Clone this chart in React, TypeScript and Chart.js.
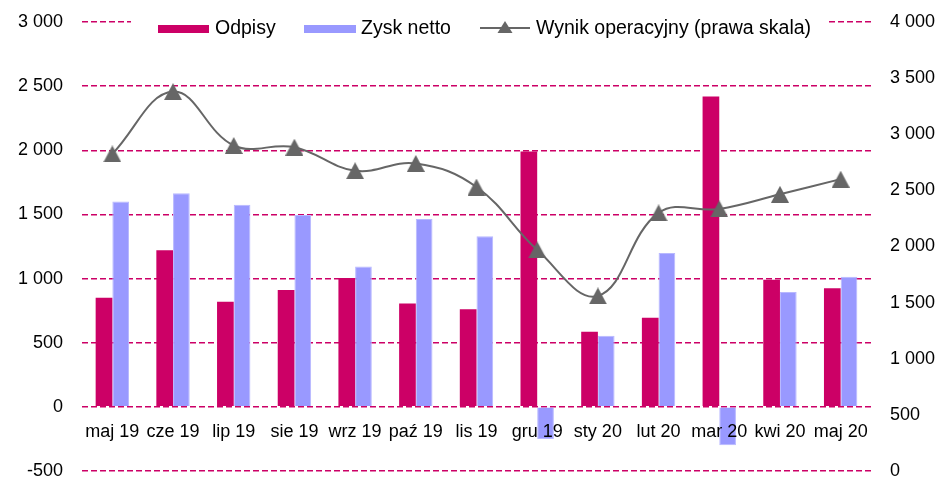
import React, { useEffect, useRef } from "react";
import { Chart, registerables } from "chart.js";

Chart.register(...registerables);

const categories = ["maj 19", "cze 19", "lip 19", "sie 19", "wrz 19", "paź 19", "lis 19", "gru 19", "sty 20", "lut 20", "mar 20", "kwi 20", "maj 20"];
const odpisy = [850, 1220, 820, 910, 1005, 805, 760, 1990, 585, 695, 2420, 990, 925];
const zyskNetto = [1600, 1665, 1575, 1495, 1095, 1465, 1330, -250, 555, 1200, -300, 895, 1015];
const wynikOperacyjny = [2825, 3380, 2900, 2885, 2675, 2740, 2530, 1970, 1560, 2300, 2335, 2465, 2600];
const seriesNames = ["Odpisy", "Zysk netto", "Wynik operacyjny (prawa skala)"];

const FONT = "'Liberation Sans', Arial, sans-serif";
const C_ODPISY = "#CC0066";
const C_ZYSK = "#9999FF";
const C_LINE = "#666666";
const C_GRID = "#CC0066";

const fmt = (v: number) => {
  const s = String(Math.abs(Math.round(v))).replace(/\B(?=(\d{3})+(?!\d))/g, " ");
  return (v < 0 ? "-" : "") + s;
};

function makeTriangle(w: number, h: number, color: string) {
  const c = document.createElement("canvas");
  c.width = w;
  c.height = h;
  const g = c.getContext("2d")!;
  g.fillStyle = color;
  g.beginPath();
  g.moveTo(w / 2, 0);
  g.lineTo(w, h);
  g.lineTo(0, h);
  g.closePath();
  g.fill();
  return c;
}

const legendPlugin = {
  id: "customLegend",
  afterDraw(chart: any) {
    const ctx = chart.ctx as CanvasRenderingContext2D;
    ctx.save();
    ctx.fillStyle = "#fff";
    ctx.fillRect(131, 10, 698, 34);
    const y = 29;
    ctx.font = `19.5px ${FONT}`;
    ctx.textBaseline = "middle";
    ctx.textAlign = "left";
    ctx.fillStyle = C_ODPISY;
    ctx.fillRect(158, 25, 51, 8);
    ctx.fillStyle = "#000";
    ctx.fillText(seriesNames[0], 215, y);
    ctx.fillStyle = C_ZYSK;
    ctx.fillRect(304, 25, 52, 8);
    ctx.fillStyle = "#000";
    ctx.fillText(seriesNames[1], 361, y);
    ctx.strokeStyle = C_LINE;
    ctx.lineWidth = 2;
    ctx.beginPath();
    ctx.moveTo(480, 28);
    ctx.lineTo(530, 28);
    ctx.stroke();
    ctx.fillStyle = C_LINE;
    ctx.beginPath();
    ctx.moveTo(505, 21);
    ctx.lineTo(512.5, 33);
    ctx.lineTo(497.5, 33);
    ctx.closePath();
    ctx.fill();
    ctx.fillStyle = "#000";
    ctx.fillText(seriesNames[2], 536, y);
    ctx.restore();
  },
};

export default function App() {
  const ref = useRef<HTMLCanvasElement>(null);

  useEffect(() => {
    document.body.style.margin = "0";
    const tri = makeTriangle(18, 17, C_LINE);
    const chart = new Chart(ref.current!, {
      type: "bar",
      data: {
        labels: categories,
        datasets: [
          {
            type: "bar",
            label: seriesNames[0],
            data: odpisy,
            backgroundColor: C_ODPISY,
            yAxisID: "y",
            categoryPercentage: 0.55,
            barPercentage: 1,
          },
          {
            type: "bar",
            label: seriesNames[1],
            data: zyskNetto,
            backgroundColor: C_ZYSK,
            borderColor: "#B8B8FF",
            borderWidth: 1,
            yAxisID: "y",
            categoryPercentage: 0.55,
            barPercentage: 1,
          },
          {
            type: "line",
            label: seriesNames[2],
            data: wynikOperacyjny,
            borderColor: C_LINE,
            backgroundColor: C_LINE,
            borderWidth: 2,
            tension: 0.4,
            pointStyle: tri as any,
            pointRadius: 9,
            yAxisID: "y2",
            order: -1,
          } as any,
        ],
      },
      options: {
        responsive: false,
        animation: false,
        devicePixelRatio: 1,
        layout: { padding: { top: 22, bottom: 8, left: 0, right: 0 } },
        plugins: { legend: { display: false }, tooltip: { enabled: false } },
        scales: {
          x: {
            type: "category",
            position: { y: 0 } as any,
            grid: { display: false, drawTicks: false },
            border: { display: false },
            ticks: { z: 1, font: { family: FONT, size: 18 }, color: "#000", padding: 14, maxRotation: 0, autoSkip: false },
          },
          y: {
            position: "left",
            min: -500,
            max: 3000,
            grid: { color: C_GRID, lineWidth: 1.5, drawTicks: false },
            border: { display: false, dash: [6, 3] },
            ticks: {
              stepSize: 500,
              font: { family: FONT, size: 18 },
              color: "#000",
              padding: 19,
              callback: (v: any) => fmt(Number(v)),
            },
            afterFit: (s: any) => {
              s.width = 82;
              s.paddingTop = 0;
              s.paddingBottom = 0;
            },
          },
          y2: {
            position: "right",
            min: 0,
            max: 4000,
            grid: { display: false, drawTicks: false },
            border: { display: false },
            ticks: {
              stepSize: 500,
              font: { family: FONT, size: 18 },
              color: "#000",
              padding: 19,
              callback: (v: any) => fmt(Number(v)),
            },
            afterFit: (s: any) => {
              s.width = 67;
              s.paddingTop = 0;
              s.paddingBottom = 0;
            },
          },
        },
      } as any,
      plugins: [legendPlugin],
    });
    return () => chart.destroy();
  }, []);

  return (
    <div style={{ width: 938, height: 482, overflow: "hidden", background: "#fff" }}>
      <canvas ref={ref} width={938} height={482} style={{ display: "block" }} />
    </div>
  );
}
